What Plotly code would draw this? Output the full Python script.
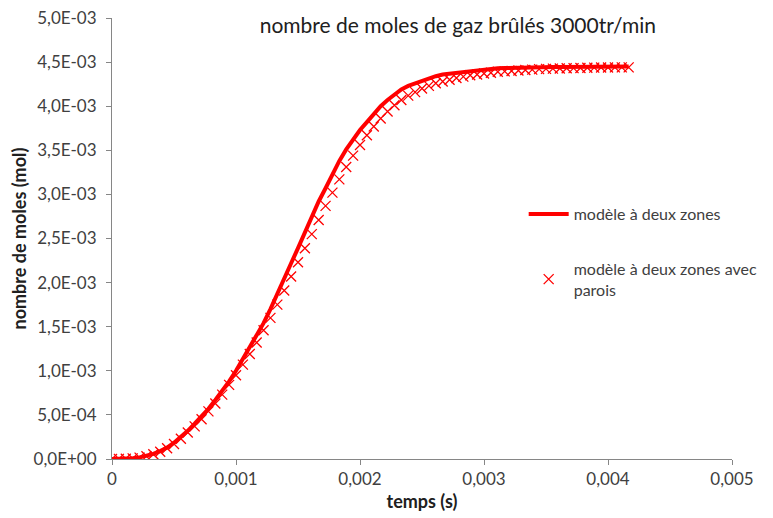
import plotly.graph_objects as go

# time in crank-degree steps (3000 tr/min -> 1 degree = 1/18000 s)
temps = [k / 18000 for k in range(76)]

# modèle à deux zones (mol, x1e-3)
deux_zones = [0, 0.001, 0.003, 0.008, 0.018, 0.035, 0.058, 0.090, 0.130, 0.185,
              0.25, 0.32, 0.40, 0.48, 0.57, 0.67, 0.77, 0.88, 1.00, 1.13,
              1.26, 1.39, 1.54, 1.70, 1.88, 2.05, 2.22, 2.39, 2.57, 2.75,
              2.92, 3.07, 3.23, 3.38, 3.51, 3.63, 3.73, 3.82, 3.91, 4.00,
              4.07, 4.13, 4.19, 4.23, 4.26, 4.29, 4.32, 4.34, 4.36, 4.37,
              4.38, 4.39, 4.40, 4.41, 4.42, 4.425, 4.43, 4.433, 4.436, 4.438,
              4.44, 4.441, 4.442, 4.443, 4.444, 4.445, 4.446, 4.447, 4.448, 4.448,
              4.449, 4.449, 4.45, 4.45, 4.45, 4.45]

# modèle à deux zones avec parois (mol, x1e-3)
avec_parois = [0, 0.001, 0.003, 0.007, 0.016, 0.031, 0.053, 0.083, 0.121, 0.17,
               0.23, 0.30, 0.37, 0.45, 0.54, 0.63, 0.73, 0.84, 0.95, 1.07,
               1.19, 1.32, 1.46, 1.60, 1.75, 1.91, 2.07, 2.23, 2.39, 2.55,
               2.71, 2.87, 3.02, 3.17, 3.31, 3.44, 3.56, 3.67, 3.77, 3.86,
               3.94, 4.01, 4.07, 4.12, 4.16, 4.20, 4.23, 4.26, 4.28, 4.30,
               4.32, 4.335, 4.35, 4.36, 4.37, 4.38, 4.39, 4.395, 4.40, 4.405,
               4.41, 4.415, 4.42, 4.423, 4.426, 4.428, 4.43, 4.432, 4.434, 4.436,
               4.437, 4.438, 4.439, 4.44, 4.44, 4.44]

y_tickvals = [i * 5e-4 for i in range(11)]
y_ticktext = ["0,0E+00", "5,0E-04", "1,0E-03", "1,5E-03", "2,0E-03", "2,5E-03",
              "3,0E-03", "3,5E-03", "4,0E-03", "4,5E-03", "5,0E-03"]
x_tickvals = [0, 0.001, 0.002, 0.003, 0.004, 0.005]
x_ticktext = ["0", "0,001", "0,002", "0,003", "0,004", "0,005"]

FONT = "Lato"
RED = "#FF0000"

fig = go.Figure()
fig.add_trace(go.Scatter(
    x=temps, y=[v * 1e-3 for v in deux_zones], mode="lines",
    name="modèle à deux zones", line=dict(color=RED, width=4),
    legendgroup="a"))
fig.add_trace(go.Scatter(
    x=temps, y=[v * 1e-3 for v in avec_parois], mode="markers",
    name="modèle à deux zones avec<br>parois",
    marker=dict(symbol="x-thin", size=10, line=dict(color=RED, width=1.3), color=RED),
    legendgroup="b"))

axis_common = dict(showline=True, linecolor="#868686", linewidth=1, ticks="outside",
                   tickcolor="#868686", ticklen=5, showgrid=False, zeroline=False,
                   automargin=False, ticklabeloverflow="allow",
                   tickfont=dict(family=FONT, size=17, color="#404040"))

fig.update_layout(
    width=765, height=510,
    margin=dict(l=104, r=38, t=10, b=59),
    paper_bgcolor="white", plot_bgcolor="white",
    title=dict(text="nombre de moles de gaz brûlés 3000tr/min", xref="container",
               x=0.588, xanchor="center", yref="container", y=0.98, yanchor="top",
               font=dict(family=FONT, size=21, color="#202020")),
    xaxis=dict(range=[0, 0.005], tickvals=x_tickvals, ticktext=x_ticktext,
               title=dict(text="<b>temps (s)</b>", font=dict(family=FONT, size=18, color="#202020"), standoff=6),
               **axis_common),
    yaxis=dict(range=[0, 0.005], tickvals=y_tickvals, ticktext=y_ticktext,
               ticklabelstandoff=6,
               title=dict(text="<b>nombre de moles (mol)</b>", font=dict(family=FONT, size=18, color="#202020"), standoff=4),
               **axis_common),
    legend=dict(x=0.664, y=0.594, xanchor="left", yanchor="top", tracegroupgap=31,
                itemwidth=40,
                font=dict(family=FONT, size=16, color="#404040"), bgcolor="rgba(0,0,0,0)"),
    showlegend=True,
)

fig.write_html("out.html")
